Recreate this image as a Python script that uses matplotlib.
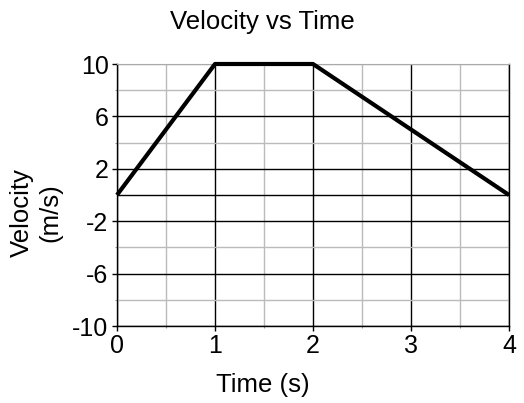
import matplotlib
matplotlib.use('Agg')
import matplotlib.pyplot as plt

plt.rcParams['font.family'] = ['Liberation Sans', 'DejaVu Sans']
plt.rcParams['axes.unicode_minus'] = False

# data
time_s = [0, 1, 2, 4]
velocity = [0, 10, 10, 0]
x_ticks = [0, 1, 2, 3, 4]
x_minor = [0.5, 1.5, 2.5, 3.5]
y_ticks = [-10, -6, -2, 2, 6, 10]
y_minor = [-8, -4, 4, 8]

fig = plt.figure(figsize=(5.24, 4.03), dpi=100)
ax = fig.add_axes([117 / 524, 1 - 326 / 403, (509 - 117) / 524, (326 - 64) / 403])

ax.plot(time_s, velocity, color='black', lw=3, solid_capstyle='butt', clip_on=False, zorder=5)

ax.set_xlim(0, 4)
ax.set_ylim(-10, 10)
ax.set_xticks(x_ticks)
ax.set_xticks(x_minor, minor=True)
ax.set_yticks(y_ticks)
ax.set_yticks(y_minor, minor=True)
ax.tick_params(which='major', length=3.6, width=1, labelsize=18, pad=2.5, color='black')
ax.tick_params(which='minor', length=1.5, width=0.8, color='#999999')

ax.grid(which='major', color='black', lw=1)
ax.grid(which='minor', color='#bbbbbb', lw=1)
# zero line is drawn dark like the major lines
ax.axhline(0, color='black', lw=1, zorder=1)
ax.yaxis.get_major_ticks()[-1].gridline.set_color('#aaaaaa')
ax.set_axisbelow(True)

for side in ['left', 'bottom', 'right']:
    ax.spines[side].set_color('black')
    ax.spines[side].set_linewidth(1)
ax.spines['top'].set_color('#aaaaaa')

fig.text(0.5, 1 - 22 / 403, 'Velocity vs Time', ha='center', va='center', fontsize=18.5)
fig.text(263 / 524, 1 - 385 / 403, 'Time (s)', ha='center', va='center', fontsize=18.5)
fig.text(36 / 524, 1 - 213 / 403, 'Velocity\n(m/s)', ha='center', va='center',
         rotation=90, fontsize=18.5, multialignment='center')

fig.savefig('out.png', dpi=100)
